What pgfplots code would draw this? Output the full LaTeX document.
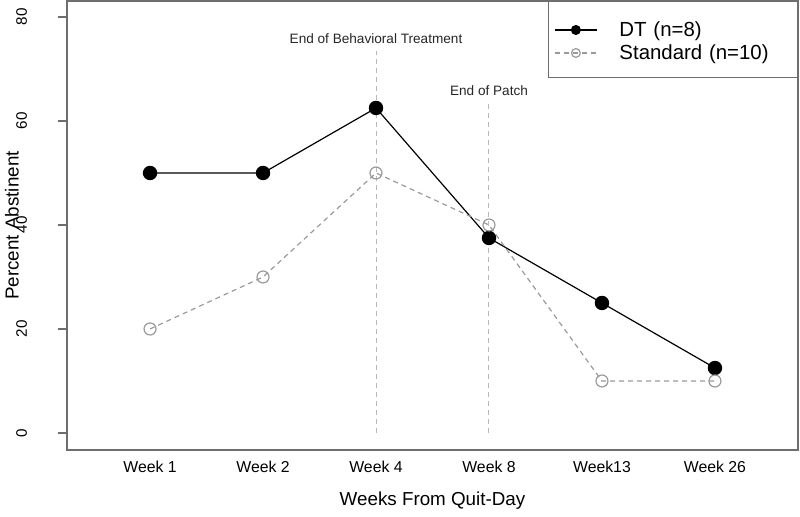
\documentclass[border=0pt]{standalone}
\usepackage{pgfplots}
\pgfplotsset{compat=1.18}
\usepackage{fontspec}
\setmainfont{Liberation Sans}
\definecolor{axgray}{HTML}{6E6E6E}
\definecolor{stdgray}{HTML}{9A9A9A}
\begin{document}
\begin{tikzpicture}
\path[use as bounding box] (0,0) rectangle (400pt,258.5pt);
\begin{axis}[
  at={(33.5pt,33.5pt)}, anchor=south west,
  scale only axis, width=365.5pt, height=224.5pt,
  xmin=0.265, xmax=6.735, ymin=-3.27, ymax=83.08,
  axis line style={axgray, line width=0.6pt},
  clip=false,
  xtick={1,2,3,4,5,6},
  xticklabels={Week 1,Week 2,Week 4,Week 8,Week13,Week 26},
  x tick style={draw=none},
  xticklabel style={font=\fontsize{7.9}{9}\selectfont, yshift=2.5pt},
  ytick={0,20,40,60,80},
  y tick style={axgray, line width=0.6pt},
  ytick pos=left, xtick pos=bottom,
  tick align=outside, major tick length=4.5pt,
  yticklabel style={rotate=90, anchor=south, font=\fontsize{7.6}{9}\selectfont},
  yticklabel shift=12pt,
  /pgf/number format/assume math mode=true,
  xlabel={Weeks From Quit-Day},
  ylabel={Percent Abstinent},
  xlabel style={font=\fontsize{9.4}{11}\selectfont, at={(axis description cs:0.5,0)}, anchor=center, yshift=-25.5pt},
  ylabel style={font=\fontsize{9.4}{11}\selectfont, at={(axis description cs:0,0.5)}, anchor=center, yshift=27.5pt},
  legend style={at={(rel axis cs:1,1)}, anchor=north east, draw=axgray, line width=0.5pt,
    font=\fontsize{10.2}{12}\selectfont, inner xsep=3pt, inner ysep=7.5pt,
    row sep=0pt, column sep=0pt,
    nodes={inner sep=1pt, text height=8.8pt, text depth=0.7pt, text width=85pt},
    /tikz/every odd column/.append style={column sep=10pt}},
  legend cell align=left,
  legend image code/.code={\draw[mark repeat=2,mark phase=2,#1,mark size=2.2pt] plot coordinates {(0pt,-1pt) (10.5pt,-1pt) (21pt,-1pt)};},
]
\addplot[black, line width=0.6pt, mark=*, mark size=3.3pt, mark options={solid, fill=black}]
  coordinates {(1,50) (2,50) (3,62.5) (4,37.5) (5,25) (6,12.5)};
\addlegendentry{DT (n=8)}
\addplot[stdgray, line width=0.6pt, dash pattern=on 2.5pt off 2pt, mark=o, mark size=3pt, mark options={solid, fill=white, draw=stdgray}]
  coordinates {(1,20) (2,30) (3,50) (4,40) (5,10) (6,10)};
\addlegendentry{Standard (n=10)}
\draw[stdgray!70, line width=0.5pt, dash pattern=on 2.5pt off 2pt] (axis cs:3,0) -- (axis cs:3,73.5);
\draw[stdgray!70, line width=0.5pt, dash pattern=on 2.5pt off 2pt] (axis cs:4,0) -- (axis cs:4,64);
\node[font=\fontsize{6.8}{8}\selectfont, text=black!85] at (axis cs:3,75.8) {End of Behavioral Treatment};
\node[font=\fontsize{6.8}{8}\selectfont, text=black!85] at (axis cs:4,65.8) {End of Patch};
\end{axis}
\end{tikzpicture}
\end{document}
